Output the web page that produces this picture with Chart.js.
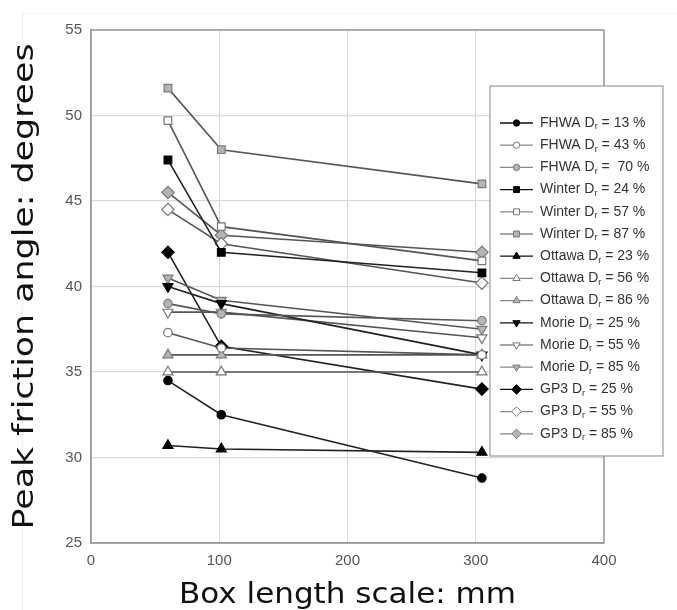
<!DOCTYPE html>
<html>
<head>
<meta charset="utf-8">
<script src="https://cdn.jsdelivr.net/npm/chart.js@4"></script>
<style>
  body { margin: 0; background: #fff; }
  #wrap { width: 677px; height: 610px; position: relative; }
</style>
</head>
<body>
<div id="wrap"><canvas id="graph-line"></canvas></div>
<script>
// box lengths (mm): 60 mm, 4 in, 12 in
const boxLength = [60, 101.6, 304.8]

const soils = ['FHWA', 'FHWA', 'FHWA', 'Winter', 'Winter', 'Winter', 'Ottawa', 'Ottawa', 'Ottawa',
  'Morie', 'Morie', 'Morie', 'GP3', 'GP3', 'GP3']
const densities = ['13', '43', ' 70', '24', '57', '87', '23', '56', '86', '25', '55', '85', '25', '55', '85']

// peak friction angle (degrees) at each box length
const fhwa13 = [34.5, 32.5, 28.8]
const fhwa43 = [37.3, 36.4, 36.0]
const fhwa70 = [39.0, 38.4, 38.0]
const winter24 = [47.4, 42.0, 40.8]
const winter57 = [49.7, 43.5, 41.5]
const winter87 = [51.6, 48.0, 46.0]
const ottawa23 = [30.7, 30.5, 30.3]
const ottawa56 = [35.0, 35.0, 35.0]
const ottawa86 = [36.0, 36.0, 36.0]
const morie25 = [40.0, 39.0, 36.0]
const morie55 = [38.5, 38.5, 37.0]
const morie85 = [40.5, 39.2, 37.5]
const gp3d25 = [42.0, 36.5, 34.0]
const gp3d55 = [44.5, 42.5, 40.2]
const gp3d85 = [45.5, 43.0, 42.0]

const seriesValues = [fhwa13, fhwa43, fhwa70, winter24, winter57, winter87, ottawa23, ottawa56, ottawa86,
  morie25, morie55, morie85, gp3d25, gp3d55, gp3d85]

const xTicks = [0, 100, 200, 300, 400]
const yTicks = [25, 30, 35, 40, 45, 50, 55]

// marker look per soil, shade per density (black / white / grey)
const shapes = {
  FHWA: { style: 'circle', r: 4.2, lr: 3.2, rot: 0 },
  Winter: { style: 'rect', r: 5.4, lr: 4.2, rot: 0 },
  Ottawa: { style: 'triangle', r: 5.8, lr: 4.2, rot: 0 },
  Morie: { style: 'triangle', r: 5.8, lr: 4.2, rot: 180 },
  GP3: { style: 'rectRot', r: 6.2, lr: 4.8, rot: 0 }
}
const shades = [
  { fill: '#000', edge: '#000', line: '#222' },
  { fill: '#fff', edge: '#777', line: '#555' },
  { fill: '#b4b4b4', edge: '#7a7a7a', line: '#555' }
]

const datasets = seriesValues.map((vals, i) => {
  const sh = shapes[soils[i]]
  const c = shades[i % 3]
  return {
    label: soils[i] + ' Dr = ' + densities[i] + ' %',
    data: vals.map((v, j) => ({ x: boxLength[j], y: v })),
    borderColor: c.line,
    borderWidth: 1.6,
    pointStyle: sh.style,
    pointRotation: sh.rot,
    pointRadius: sh.r,
    pointBackgroundColor: c.fill,
    pointBorderColor: c.edge,
    pointBorderWidth: 1.2,
    fill: false,
    tension: 0
  }
})

const framePlugin = {
  id: 'frame',
  beforeDraw(chart) {
    // faint edge of the pasted figure
    const ctx = chart.ctx
    ctx.save()
    ctx.strokeStyle = '#f0f0f0'
    ctx.lineWidth = 1
    ctx.beginPath()
    ctx.moveTo(22.5, 610)
    ctx.lineTo(22.5, 13.5)
    ctx.lineTo(677, 13.5)
    ctx.stroke()
    ctx.restore()
  },
  beforeDatasetsDraw(chart) {
    const a = chart.chartArea
    const ctx = chart.ctx
    ctx.save()
    ctx.strokeStyle = '#9a9a9a'
    ctx.lineWidth = 1.5
    ctx.strokeRect(a.left, a.top, a.right - a.left, a.bottom - a.top)
    ctx.restore()
  }
}

const titlePlugin = {
  id: 'axisTitles',
  afterDraw(chart) {
    const a = chart.chartArea
    const ctx = chart.ctx
    ctx.save()
    ctx.fillStyle = '#111'
    ctx.font = '28px "DejaVu Sans"'
    ctx.textAlign = 'center'
    ctx.textBaseline = 'alphabetic'
    // x title, stretched a little like the source figure
    let t = 'Box length scale: mm'
    let w = ctx.measureText(t).width
    ctx.save()
    ctx.translate((a.left + a.right) / 2, 603)
    ctx.scale(337 / w, 1)
    ctx.fillText(t, 0, 0)
    ctx.restore()
    // y title
    t = 'Peak friction angle: degrees'
    w = ctx.measureText(t).width
    ctx.save()
    ctx.translate(33, (a.top + a.bottom) / 2)
    ctx.rotate(-Math.PI / 2)
    ctx.scale(486 / w, 1)
    ctx.fillText(t, 0, 0)
    ctx.restore()
    ctx.restore()
  }
}

const legendPlugin = {
  id: 'boxLegend',
  afterDraw(chart) {
    const ctx = chart.ctx
    const bx = 490, by = 86, bw = 173, bh = 370
    ctx.save()
    ctx.fillStyle = '#fff'
    ctx.fillRect(bx, by, bw, bh)
    ctx.strokeStyle = '#999'
    ctx.lineWidth = 1.2
    ctx.strokeRect(bx, by, bw, bh)
    chart.data.datasets.forEach((ds, i) => {
      const y = 123 + i * 22.2
      const sh = shapes[soils[i]]
      const c = shades[i % 3]
      ctx.strokeStyle = i % 3 === 0 ? '#111' : '#888'
      ctx.lineWidth = 1.3
      ctx.beginPath()
      ctx.moveTo(500, y)
      ctx.lineTo(533, y)
      ctx.stroke()
      ctx.fillStyle = c.fill
      ctx.strokeStyle = c.edge
      ctx.lineWidth = 1
      Chart.helpers.drawPoint(ctx, { pointStyle: sh.style, radius: sh.lr, rotation: sh.rot, borderWidth: 1 }, 516.5, y)
      // label with subscript r
      ctx.fillStyle = '#333'
      ctx.textBaseline = 'middle'
      ctx.textAlign = 'left'
      ctx.font = '14px "Liberation Sans", Arial, sans-serif'
      let x = 540
      const a = soils[i] + ' D'
      ctx.fillText(a, x, y)
      x += ctx.measureText(a).width
      ctx.font = '9px "Liberation Sans", Arial, sans-serif'
      ctx.fillText('r', x, y + 4)
      x += ctx.measureText('r').width
      ctx.font = '14px "Liberation Sans", Arial, sans-serif'
      ctx.fillText(' = ' + densities[i] + ' %', x, y)
    })
    ctx.restore()
  }
}

const tickFont = { family: '"Liberation Sans", Arial, sans-serif', size: 15 }

const config = {
  type: 'line',
  data: { datasets: datasets },
  options: {
    responsive: true,
    maintainAspectRatio: false,
    animation: false,
    layout: { padding: { top: 30, right: 73, left: 0, bottom: 0 } },
    plugins: {
      legend: { display: false },
      tooltip: { enabled: false }
    },
    scales: {
      x: {
        type: 'linear',
        min: xTicks[0],
        max: xTicks[xTicks.length - 1],
        afterBuildTicks: s => { s.ticks = xTicks.map(v => ({ value: v })) },
        afterFit: s => { s.height = 67 },
        ticks: { font: tickFont, color: '#555', padding: 9 },
        grid: { color: '#dadada', lineWidth: 1.2, drawTicks: false },
        border: { color: '#9a9a9a', width: 1.5 }
      },
      y: {
        type: 'linear',
        min: yTicks[0],
        max: yTicks[yTicks.length - 1],
        afterBuildTicks: s => { s.ticks = yTicks.map(v => ({ value: v })) },
        afterFit: s => { s.width = 91 },
        ticks: { font: tickFont, color: '#555', padding: 9 },
        grid: { color: '#dadada', lineWidth: 1.2, drawTicks: false },
        border: { color: '#9a9a9a', width: 1.5 }
      }
    }
  },
  plugins: [framePlugin, titlePlugin, legendPlugin]
}

let chart = new Chart(document.querySelector('#graph-line'), config)
</script>
</body>
</html>
